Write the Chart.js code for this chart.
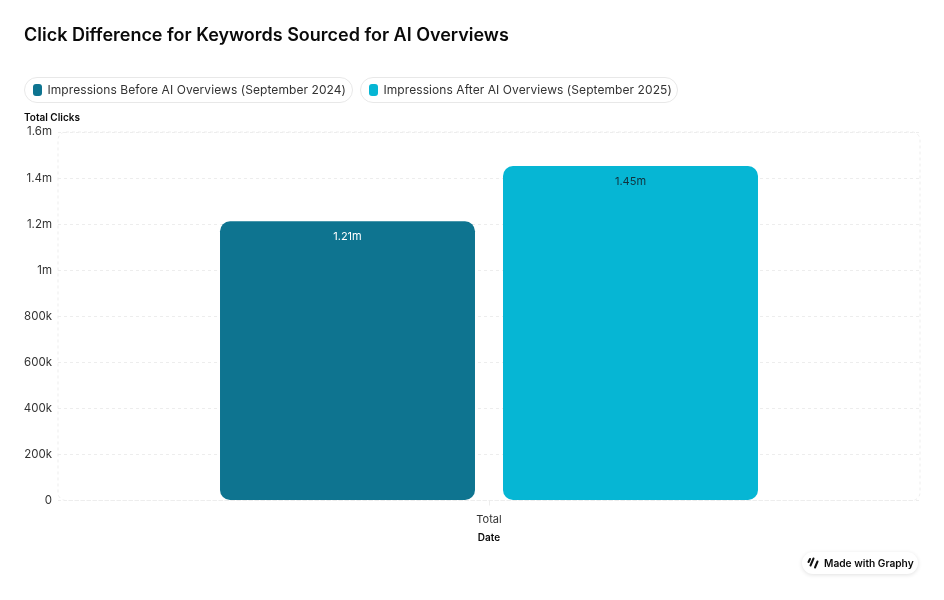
<!DOCTYPE html>
<html>
<head>
<meta charset="utf-8">
<title>Click Difference for Keywords Sourced for AI Overviews</title>
<script src="https://cdn.jsdelivr.net/npm/chart.js@4"></script>
<style>
    html, body { margin: 0; padding: 0; background: #fff; }
    body { width: 944px; height: 600px; position: relative; overflow: hidden; font-family: Inter, sans-serif; color: #0a0a0a; }
    canvas { position: absolute; left: 0; top: 0; }
    h1 { position: absolute; left: 24px; top: 24px; margin: 0; font-size: 18px; line-height: 22px; font-weight: 600; letter-spacing: -0.01px; }
    #legend { position: absolute; left: 24px; top: 77px; display: flex; gap: 7.5px; }
    .pill { display: flex; align-items: center; height: 24px; padding: 0 5.5px 0 8px; border: 1px solid #e8e8e8; border-radius: 13px; font-size: 12px; line-height: 22px; letter-spacing: 0.07px; color: #333; white-space: nowrap; }
    .swatch { width: 9px; height: 12px; border-radius: 3px; margin-right: 5.5px; }
    .name { position: relative; top: -0.5px; }
    #ytitle { position: absolute; left: 24px; top: 111px; font-size: 10px; line-height: 13px; font-weight: 600; }
    #badge { position: absolute; left: 802px; top: 552px; width: 116px; height: 22px; border-radius: 11px; background: #fff; box-shadow: 0 1px 4px rgba(0,0,0,0.12); display: flex; align-items: center; font-size: 10.2px; font-weight: 600; white-space: nowrap; }
    #badge svg { margin: 0 5px 0 5px; }
</style>
</head>
<body>
<canvas id="chart" width="944" height="600"></canvas>
<h1>Click Difference for Keywords Sourced for AI Overviews</h1>
<div id="legend"></div>
<div id="ytitle">Total Clicks</div>
<div id="badge">
    <svg width="12" height="12" viewBox="0 0 12 12"><path d="M3 2 L1.5 5 M6.5 1.5 L3.5 8.5 M10.5 4.5 L8 10.5" stroke="#111" stroke-width="2" stroke-linecap="round" fill="none"/></svg>
    Made with Graphy
</div>
<script>
const categories = ['Total'];
const seriesNames = ['Impressions Before AI Overviews (September 2024)', 'Impressions After AI Overviews (September 2025)'];
const seriesColors = ['#0e7490', '#06b6d4'];
const labelColors = ['#ffffff', '#12303c'];
const beforeValues = [1212000];
const afterValues = [1452000];
const yTickLabels = ['0', '200k', '400k', '600k', '800k', '1m', '1.2m', '1.4m', '1.6m'];

const gridColor = '#ededed';

// legend pills
const legendBox = document.getElementById('legend');
seriesNames.forEach((name, i) => {
    const pill = document.createElement('div');
    pill.className = 'pill';
    const swatch = document.createElement('span');
    swatch.className = 'swatch';
    swatch.style.background = seriesColors[i];
    const text = document.createElement('span');
    text.className = 'name';
    text.textContent = name;
    pill.appendChild(swatch);
    pill.appendChild(text);
    legendBox.appendChild(pill);
});

function formatValue(v) {
    return (v / 1000000).toFixed(2) + 'm';
}

// Dashed frame with rounded corners around the plot
const plotFrame = {
    id: 'plotFrame',
    beforeDatasetsDraw(chart) {
        const { ctx, chartArea: a } = chart;
        ctx.save();
        ctx.strokeStyle = gridColor;
        ctx.lineWidth = 1;
        ctx.setLineDash([3, 3]);
        ctx.beginPath();
        ctx.roundRect(a.left, a.top, a.right - a.left, a.bottom - a.top, 8);
        ctx.stroke();
        ctx.restore();
    }
};

// Value labels inside the top of each bar
const barLabels = {
    id: 'barLabels',
    afterDatasetsDraw(chart) {
        const { ctx } = chart;
        ctx.save();
        ctx.font = '11px Inter';
        ctx.textAlign = 'center';
        ctx.textBaseline = 'middle';
        chart.data.datasets.forEach((ds, i) => {
            chart.getDatasetMeta(i).data.forEach((bar, j) => {
                ctx.fillStyle = labelColors[i];
                ctx.fillText(formatValue(ds.data[j]), bar.x, bar.y + 15.5);
            });
        });
        ctx.restore();
    }
};

new Chart(document.getElementById('chart').getContext('2d'), {
    type: 'bar',
    data: {
        labels: categories,
        datasets: [
            { label: seriesNames[0], data: beforeValues, backgroundColor: seriesColors[0] },
            { label: seriesNames[1], data: afterValues, backgroundColor: seriesColors[1] }
        ]
    },
    options: {
        responsive: false,
        animation: false,
        categoryPercentage: 0.6566,
        barPercentage: 0.901,
        borderRadius: 10,
        borderSkipped: false,
        layout: { padding: { top: 132, right: 24, bottom: 54.5, left: 0 } },
        plugins: {
            legend: { display: false },
            title: { display: false },
            tooltip: { enabled: false }
        },
        scales: {
            x: {
                afterFit(scale) { scale.height = 45; },
                border: { display: false },
                grid: { offset: false, drawOnChartArea: false, tickLength: 5, color: gridColor },
                ticks: { color: '#333333', font: { family: 'Inter', size: 11 }, padding: 8 },
                title: { display: true, text: 'Date', color: '#0a0a0a', font: { family: 'Inter', size: 10, weight: '600' }, padding: { top: 3, bottom: 2 } }
            },
            y: {
                min: 0,
                max: 1600000,
                afterFit(scale) { scale.width = 58; },
                border: { display: false, dash: [3, 3] },
                grid: { color: gridColor, drawTicks: false },
                afterBuildTicks(scale) { scale.ticks = yTickLabels.map((_, i) => ({ value: i * 200000 })); },
                ticks: {
                    color: '#333333',
                    font: { family: 'Inter', size: 11.5 },
                    padding: 6,
                    callback: (v, i) => yTickLabels[i]
                }
            }
        }
    },
    plugins: [plotFrame, barLabels]
});
</script>
</body>
</html>
